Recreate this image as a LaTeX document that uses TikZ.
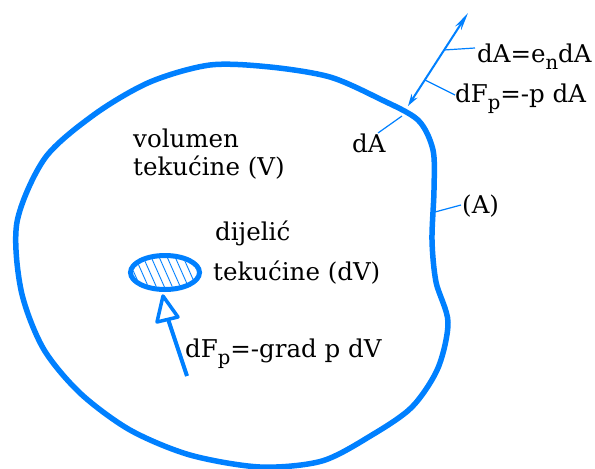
\documentclass[tikz,border=0pt]{standalone}
\usepackage{fontspec}
\setmainfont{DejaVu Serif}
\usetikzlibrary{arrows.meta,shapes.geometric}
\definecolor{fblue}{RGB}{0,128,255}
\newcommand\mysub[1]{\raisebox{-0.32em}{\scalebox{0.8}{#1}}}
\begin{document}
\begin{tikzpicture}[x=1pt,y=-1pt,
  outline/.style={draw=fblue,line width=5.5pt,line join=round},
  lbl/.style={anchor=base west,inner sep=0pt,font=\fontsize{24.5}{28}\selectfont},
  leader/.style={draw=fblue,line width=1.2pt},
  hatch/.style={draw=fblue,line width=0.9pt}]
\useasboundingbox (0,0) rectangle (595,469);
% outer surface (A)
\draw[outline] plot[smooth cycle,tension=0.5] coordinates {
 (17,222) (21,290) (43,348) (80,393) (130,430) (190,455) (260,467)
 (322,461) (372,435) (412,407) (438,368) (448,322) (436,282) (432,240)
 (434,190) (433,150) (418,120) (380,99) (330,77) (270,67) (210,65)
 (150,82) (95,114) (45,158)};
% fluid particle dV
\node[ellipse,draw=fblue,line width=5pt,minimum width=69pt,minimum height=34pt,inner sep=0pt] (dv) at (165,272.5) {};
\begin{scope}
  \clip (165,272.5) ellipse [x radius=32, y radius=14.5];
  \foreach \i in {100,108,...,220}{\draw[hatch] (\i,250) -- (\i+20,295);}
\end{scope}
% force on particle
\coordinate (fs) at (187,376);
\coordinate (fb) at (168,319);
\coordinate (ft) at (163,296);
\coordinate (fl) at (157,322);
\coordinate (fr) at (178,317);
\draw[fblue,line width=4pt] (fs) -- (fb);
\draw[fblue,line width=3.5pt,fill=white,line join=round] (ft) -- (fl) -- (fr) -- cycle;
% surface element arrows
\coordinate (s) at (408,106);
\coordinate (t) at (468,13);
\draw[fblue,line width=2pt,{Stealth[length=12pt,width=7pt]}-{Stealth[length=18pt,width=7pt]}] (s) -- (t);
% labels
\node[lbl] (vol) at (133,147) {volumen};
\node[lbl] (tekV) at (133,175) {tekućine (V)};
\node[lbl] (dij) at (215,240) {dijelić};
\node[lbl] (tekdV) at (213,280) {tekućine (dV)};
\node[lbl] (dFgrad) at (185,357) {dF\mysub{p}=-grad p dV};
\node[lbl] (dAin) at (352,152) {dA};
\node[lbl] (dAen) at (477,62) {dA=e\mysub{n}dA};
\node[lbl] (dFp) at (455,102) {dF\mysub{p}=-p dA};
\node[lbl] (Alab) at (462,213) {(A)};
% leaders
\coordinate (l1) at (444,50);
\coordinate (l2) at (425,80);
\coordinate (l3) at (402,116);
\coordinate (l4) at (435,212);
\coordinate (e1) at (475,48);
\coordinate (e2) at (455,95);
\coordinate (e3) at (378,133);
\coordinate (e4) at (461,205);
\draw[leader] (l1) -- (e1);
\draw[leader] (l2) -- (e2);
\draw[leader] (l3) -- (e3);
\draw[leader] (l4) -- (e4);
\end{tikzpicture}
\end{document}
